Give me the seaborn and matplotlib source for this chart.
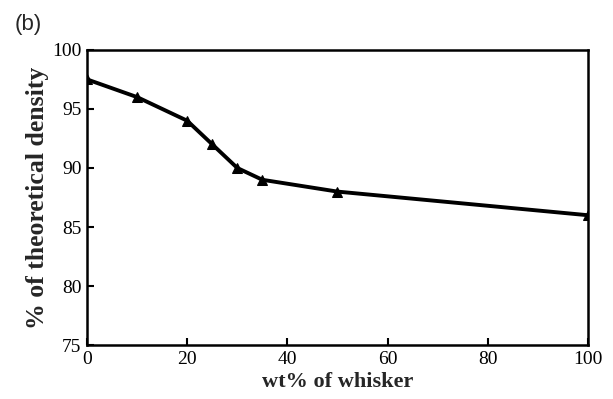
import matplotlib
matplotlib.use("Agg")
import matplotlib.pyplot as plt
import seaborn as sns
import pandas as pd

wt_whisker = [0, 10, 20, 25, 30, 35, 50, 100]
density = [97.5, 96.0, 94.0, 92.0, 90.0, 89.0, 88.0, 86.0]
x_ticks = [0, 20, 40, 60, 80, 100]
y_ticks = [75, 80, 85, 90, 95, 100]

sns.set_theme(style="ticks")
plt.rcParams['font.family'] = ['Liberation Serif', 'DejaVu Serif']

df = pd.DataFrame({"wt": wt_whisker, "density": density})

fig = plt.figure(figsize=(6.13, 3.99), dpi=100)
ax = fig.add_axes([0.142, 0.135, 0.817, 0.74])
sns.lineplot(data=df, x="wt", y="density", ax=ax, color="black", linewidth=2.8,
             marker="^", markersize=7, markeredgecolor="black", markerfacecolor="black")
ax.set_xlim(0, 100)
ax.set_ylim(75, 100)
ax.set_xticks(x_ticks)
ax.set_yticks(y_ticks)
ax.tick_params(direction="in", length=5, width=1.5, labelsize=14, pad=4, colors="black")
for s in ax.spines.values():
    s.set_linewidth(1.8)
    s.set_color("black")
    s.set_visible(True)
ax.set_xlabel("wt% of whisker", fontsize=16, fontweight="bold", labelpad=3)
ax.set_ylabel("% of theoretical density", fontsize=18.5, fontweight="bold", labelpad=2)
fig.text(0.024, 0.925, "(b)", fontsize=16, family=["Liberation Sans", "DejaVu Sans"])
fig.savefig("out.png", dpi=100)
